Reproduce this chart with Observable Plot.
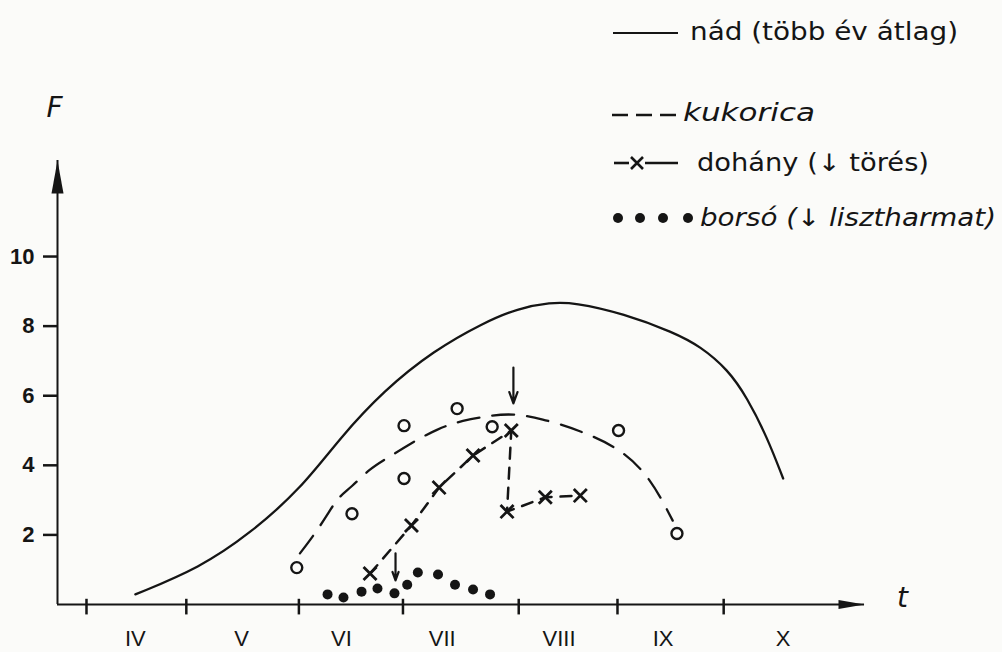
<!DOCTYPE html>
<html><head><meta charset="utf-8">
<script src="https://cdn.jsdelivr.net/npm/d3@7"></script>
<script src="https://cdn.jsdelivr.net/npm/@observablehq/plot@0.6"></script>
<style>
body{margin:0;background:#fbfbf9;}
#wrap{position:relative;width:1002px;height:652px;}
</style></head><body><div id="wrap"></div>
<script>
// ---- data (t = month index, 3 = start of April; F = value) ----
const monthLabels = ["IV","V","VI","VII","VIII","IX","X"];
const monthLabelT = [3.46, 4.46, 5.40, 6.35, 7.45, 8.43, 9.56];
const monthTickT  = [3.0, 3.94, 5.0, 5.98, 7.07, 8.0, 9.0];
const yTicks = [2, 4, 6, 8, 10];

// nád (több év átlag) – solid curve
const nadT = [3.46, 4.07, 4.54, 5.02, 5.39, 5.80, 6.27, 6.74, 7.06, 7.37, 7.59, 8.06, 8.53, 8.78, 9.04, 9.22, 9.41, 9.56];
const nadF = [0.29, 1.06, 2.04, 3.33, 4.80, 6.15, 7.30, 8.10, 8.51, 8.68, 8.68, 8.36, 7.82, 7.42, 6.75, 5.95, 4.80, 3.62];

// kukorica – dashed fitted curve and observed circles
const kukT = [5.01, 5.16, 5.28, 5.37, 5.49, 5.67, 5.83, 6.05, 6.31, 6.54, 6.80, 7.01, 7.28, 7.65, 8.03, 8.31, 8.52];
const kukF = [1.47, 2.07, 2.64, 3.08, 3.36, 3.91, 4.20, 4.63, 5.06, 5.29, 5.43, 5.49, 5.35, 5.00, 4.48, 3.65, 2.41];
const kukObsT = [4.98, 5.50, 5.99, 5.99, 6.49, 6.82, 8.01, 8.56];
const kukObsF = [1.06, 2.61, 5.14, 3.62, 5.63, 5.11, 5.00, 2.04];

// dohány – x markers joined (drop at törés)
const dohT = [5.67, 6.06, 6.32, 6.64, 7.00, 6.96, 7.32, 7.65];
const dohF = [0.89, 2.27, 3.36, 4.28, 5.00, 2.67, 3.08, 3.13];

// borsó – dots
const borT = [5.27, 5.42, 5.59, 5.74, 5.90, 6.02, 6.12, 6.31, 6.47, 6.64, 6.80];
const borF = [0.29, 0.20, 0.37, 0.46, 0.32, 0.57, 0.92, 0.86, 0.57, 0.43, 0.29];

// event arrows (törés, lisztharmat)
const eventT = [7.02, 5.91];
const eventFrom = [6.81, 1.47];
const eventTo = [5.78, 0.69];

const legendLabels = ["nád (több év átlag)", "kukorica", "dohány (↓ törés)", "borsó (↓ lisztharmat)"];

// ---- build tables ----
const zip = (T, F) => T.map((t, i) => ({t, F: F[i]}));
const nad = zip(nadT, nadF);
const kuk = zip(kukT, kukF);
const kukObs = zip(kukObsT, kukObsF);
const doh = zip(dohT, dohF);
const bor = zip(borT, borF);
const events = eventT.map((t, i) => ({t, from: eventFrom[i], to: eventTo[i]}));
const months = monthLabels.map((m, i) => ({m, t: monthLabelT[i]}));

const xLo = 2.727, xHi = 10.326, yTop = 12.76;
const ink = "#151515";
const hand = "DejaVu Sans";

// filled narrow arrowheads for the axes
const headUp = {draw(ctx, size) { const s = Math.sqrt(size / Math.PI); ctx.moveTo(0, 0); ctx.lineTo(-0.6 * s, 3.3 * s); ctx.lineTo(0.6 * s, 3.3 * s); ctx.closePath(); }};
const headRight = {draw(ctx, size) { const s = Math.sqrt(size / Math.PI); ctx.moveTo(0, 0); ctx.lineTo(-2.6 * s, -0.45 * s); ctx.lineTo(-2.6 * s, 0.45 * s); ctx.closePath(); }};

const plot = Plot.plot({
  width: 1002, height: 652,
  marginLeft: 57, marginRight: 138, marginTop: 160, marginBottom: 48,
  x: {domain: [xLo, xHi], axis: null},
  y: {domain: [0, yTop], axis: null},
  style: {background: "transparent", color: ink, fontFamily: "Liberation Sans"},
  marks: [
    // axes
    Plot.ruleY([0], {stroke: ink, strokeWidth: 2}),
    Plot.ruleX([xLo], {stroke: ink, strokeWidth: 2}),
    Plot.dot([0], {x: () => xLo, y: () => yTop, symbol: headUp, r: 10, fill: ink, stroke: "none"}),
    Plot.dot([0], {x: () => xHi, y: () => 0, symbol: headRight, r: 10, fill: ink, stroke: "none"}),
    Plot.axisY(yTicks, {tickSize: 14, tickPadding: 9, fontSize: 22, fontWeight: "bold", strokeWidth: 2.5, stroke: ink}),
    Plot.ruleX(monthTickT, {x: d => d, y1: () => 0.15, y2: () => -0.3, stroke: ink, strokeWidth: 2.5}),
    Plot.text(months, {x: "t", y: () => 0, dy: 34, text: "m", fontSize: 22, fill: ink}),
    Plot.text(["F"], {x: () => xLo, y: () => yTop, dy: -52, dx: -3, fontSize: 28, fontStyle: "italic", fill: ink, fontFamily: hand}),
    Plot.text(["t"], {x: () => xHi, y: () => 0, dx: 38, dy: -6, fontSize: 28, fontStyle: "italic", fill: ink, fontFamily: hand}),
    // series
    Plot.line(nad, {x: "t", y: "F", curve: "basis", stroke: ink, strokeWidth: 2.3}),
    Plot.line(kuk, {x: "t", y: "F", curve: "basis", stroke: ink, strokeWidth: 2.3, strokeDasharray: "22,13"}),
    Plot.dot(kukObs, {x: "t", y: "F", r: 5.5, stroke: ink, strokeWidth: 2.4, fill: "none"}),
    Plot.line(doh, {x: "t", y: "F", stroke: ink, strokeWidth: 2.5, strokeDasharray: "11,9"}),
    Plot.dot(doh, {x: "t", y: "F", symbol: "times", r: 6, stroke: ink, strokeWidth: 2.8}),
    Plot.dot(bor, {x: "t", y: "F", r: 5, fill: ink, stroke: "none"}),
    Plot.arrow(events, {x1: "t", y1: "from", x2: "t", y2: "to", stroke: ink, strokeWidth: 2.2, headLength: 12, headAngle: 40})
  ]
});
document.getElementById("wrap").appendChild(plot);

// ---- legend (top right) ----
const svg = d3.select(plot);
const lg = svg.append("g").attr("text-anchor", "start");
const rows = [
  {tx: 690, base: 40, w: 268, italic: false},
  {tx: 683, base: 121, w: 132, italic: true},
  {tx: 697, base: 171, w: 232, italic: false},
  {tx: 700, base: 226, w: 296, italic: true}
];
legendLabels.forEach((label, i) => {
  const r = rows[i];
  lg.append("text").attr("x", r.tx).attr("y", r.base).text(label)
    .attr("text-anchor", "start")
    .attr("font-family", hand).attr("font-size", 24)
    .attr("font-style", r.italic ? "italic" : "normal")
    .attr("fill", ink)
    .attr("textLength", r.w).attr("lengthAdjust", "spacingAndGlyphs");
});
// samples
lg.append("line").attr("x1", 613).attr("x2", 678).attr("y1", 33).attr("y2", 33).attr("stroke", ink).attr("stroke-width", 2.2);
lg.append("line").attr("x1", 612).attr("x2", 677).attr("y1", 115).attr("y2", 115).attr("stroke", ink).attr("stroke-width", 2.4).attr("stroke-dasharray", "16,8");
lg.append("line").attr("x1", 614).attr("x2", 629).attr("y1", 163).attr("y2", 163).attr("stroke", ink).attr("stroke-width", 2.6);
lg.append("line").attr("x1", 645).attr("x2", 678).attr("y1", 163).attr("y2", 163).attr("stroke", ink).attr("stroke-width", 2.6);
lg.append("path").attr("d", "M631,157L643,169M643,157L631,169").attr("stroke", ink).attr("stroke-width", 2.6);
[618, 640, 663, 688].forEach(cx => lg.append("circle").attr("cx", cx).attr("cy", 218).attr("r", 5).attr("fill", ink));
</script>
</body></html>
